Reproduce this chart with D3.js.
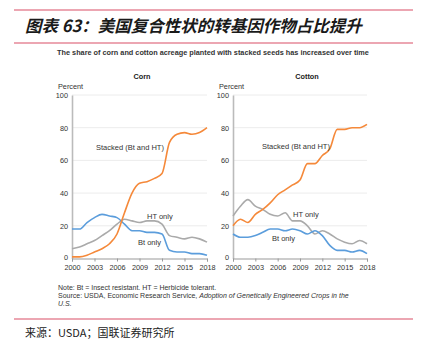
<!DOCTYPE html>
<html>
<head>
<meta charset="utf-8">
<script src="https://cdn.jsdelivr.net/npm/d3@7"></script>
<style>
  body { margin: 0; background: #fff; }
  text { font-family: "Liberation Sans", Arial, sans-serif; }
</style>
</head>
<body>
<div id="chart"></div>
<script>
//Chart data (percent of planted acres)
const years = d3.range(2000, 2019);
const xTicks = [2000, 2003, 2006, 2009, 2012, 2015, 2018];
const yTicks = [0, 20, 40, 60, 80, 100];

const cornStacked = [1, 1, 2, 4, 6, 9, 15, 28, 40, 46, 47, 49, 52, 71, 76, 77, 76, 77, 80];
const cornHT = [6, 7, 9, 11, 14, 17, 21, 24, 23, 22, 23, 23, 21, 14, 13, 12, 13, 12, 10];
const cornBt = [18, 18, 22, 25, 27, 26, 25, 21, 17, 17, 16, 16, 15, 5, 4, 4, 3, 3, 2];

const cottonStacked = [20, 24, 22, 27, 30, 34, 39, 42, 45, 48, 58, 58, 63, 67, 79, 79, 80, 80, 82];
const cottonHT = [26, 32, 36, 32, 30, 27, 26, 28, 23, 23, 20, 15, 17, 15, 12, 10, 9, 11, 9];
const cottonBt = [15, 13, 13, 14, 16, 18, 18, 17, 18, 17, 15, 17, 14, 8, 5, 5, 4, 5, 3];

const colors = { stacked: "#f5893a", ht: "#aaaaaa", bt: "#5b9ddc" };

//SVG
const svgWidth = 424;
const svgHeight = 341;

const svg = d3.select("#chart")
    .append("svg")
    .attr("width", svgWidth)
    .attr("height", svgHeight);

//Header red lines and title
const red = "#d94f67";
svg.append("line").attr("x1", 14).attr("x2", 413).attr("y1", 10).attr("y2", 10)
    .attr("stroke", red).attr("stroke-width", 1.2);
svg.append("line").attr("x1", 14).attr("x2", 413).attr("y1", 43).attr("y2", 43)
    .attr("stroke", red).attr("stroke-width", 1.2);
svg.append("line").attr("x1", 14).attr("x2", 413).attr("y1", 319).attr("y2", 319)
    .attr("stroke", red).attr("stroke-width", 1.2);

svg.append("text")
    .attr("x", 25)
    .attr("y", 32)
    .attr("font-size", "16.5px")
    .attr("font-style", "italic")
    .attr("font-weight", "bold")
    .attr("fill", "#1a1a1a")
    .style("font-family", "'Noto Sans CJK SC', sans-serif")
    .text("图表 63：美国复合性状的转基因作物占比提升");

svg.append("text")
    .attr("x", 213)
    .attr("y", 55)
    .attr("text-anchor", "middle")
    .attr("font-size", "7.3px")
    .attr("font-weight", "bold")
    .attr("fill", "#333")
    .text("The share of corn and cotton acreage planted with stacked seeds has increased over time");

//Panels
const yScale = d3.scaleLinear().domain([0, 100]).range([258.5, 95]);

function drawPanel(cfg) {
    const x = d3.scaleLinear().domain([2000, 2018]).range([cfg.x0, cfg.x1]);
    const g = svg.append("g");

    //gridlines
    g.selectAll(".grid")
        .data(yTicks.slice(1))
        .enter()
        .append("line")
        .attr("x1", cfg.x0)
        .attr("x2", cfg.x1)
        .attr("y1", d => yScale(d))
        .attr("y2", d => yScale(d))
        .attr("stroke", "#ececec")
        .attr("stroke-width", 1);

    //y axis
    const yAxis = g.append("g")
        .attr("transform", `translate(${cfg.x0}, 0)`)
        .call(d3.axisLeft(yScale).tickValues(yTicks).tickSize(0).tickPadding(4));
    yAxis.select(".domain").attr("stroke", "#bbbbbb").attr("stroke-width", 1.6);
    yAxis.selectAll("text").attr("font-size", "7.3px").attr("fill", "#333")
        .style("font-family", "'Liberation Sans', Arial, sans-serif");
    yAxis.selectAll(".tick").filter(d => d === 0).select("text").attr("dy", "0.1em");

    //x axis
    const xAxis = g.append("g")
        .attr("transform", `translate(0, ${yScale(0)})`)
        .call(d3.axisBottom(x).tickValues(xTicks).tickFormat(d3.format("d")).tickSize(3).tickPadding(3));
    xAxis.select(".domain").attr("stroke", "#999").attr("stroke-width", 1);
    xAxis.selectAll(".tick line").attr("stroke", "#999");
    xAxis.selectAll("text").attr("font-size", "7.3px").attr("fill", "#333")
        .style("font-family", "'Liberation Sans', Arial, sans-serif");

    //lines
    const line = d3.line()
        .x((d, i) => x(years[i]))
        .y(d => yScale(d))
        .curve(d3.curveMonotoneX);

    [["ht", cfg.ht], ["bt", cfg.bt], ["stacked", cfg.stacked]].forEach(([k, vals]) => {
        g.append("path")
            .datum(vals)
            .attr("d", line)
            .attr("fill", "none")
            .attr("stroke", colors[k])
            .attr("stroke-width", 1.6);
    });

    //titles
    g.append("text")
        .attr("x", cfg.titleX)
        .attr("y", 79)
        .attr("text-anchor", "middle")
        .attr("font-size", "7.3px")
        .attr("font-weight", "bold")
        .attr("fill", "#222")
        .text(cfg.title);

    g.append("text")
        .attr("x", cfg.x0 - 14)
        .attr("y", 88.5)
        .attr("font-size", "7.3px")
        .attr("fill", "#333")
        .text("Percent");

    //series labels
    cfg.labels.forEach(l => {
        g.append("text")
            .attr("x", l.x)
            .attr("y", l.y)
            .attr("font-size", "7.5px")
            .attr("fill", "#333")
            .text(l.t);
    });
}

drawPanel({
    x0: 72, x1: 207, titleX: 142, title: "Corn",
    stacked: cornStacked, ht: cornHT, bt: cornBt,
    labels: [
        { t: "Stacked (Bt and HT)", x: 96, y: 149.5 },
        { t: "HT only", x: 147, y: 218.5 },
        { t: "Bt only", x: 138, y: 244.5 }
    ]
});

drawPanel({
    x0: 233, x1: 367, titleX: 307, title: "Cotton",
    stacked: cottonStacked, ht: cottonHT, bt: cottonBt,
    labels: [
        { t: "Stacked (Bt and HT)", x: 262, y: 148.5 },
        { t: "HT only", x: 293, y: 216.5 },
        { t: "Bt only", x: 272, y: 240.5 }
    ]
});

//Footnotes
const note = svg.append("g").attr("font-size", "7px").attr("fill", "#333");
note.append("text").attr("x", 58).attr("y", 289.5)
    .text("Note: Bt = Insect resistant. HT = Herbicide tolerant.");
const src = note.append("text").attr("x", 58).attr("y", 297.5);
src.append("tspan").text("Source: USDA, Economic Research Service, ");
src.append("tspan").attr("font-style", "italic")
    .text("Adoption of Genetically Engineered Crops in the");
note.append("text").attr("x", 58).attr("y", 305.5).attr("font-style", "italic").text("U.S.");

svg.append("text")
    .attr("x", 25)
    .attr("y", 337)
    .attr("font-size", "11px")
    .attr("fill", "#222")
    .style("font-family", "'Noto Sans CJK SC', sans-serif")
    .text("来源：USDA；国联证券研究所");
</script>
</body>
</html>
